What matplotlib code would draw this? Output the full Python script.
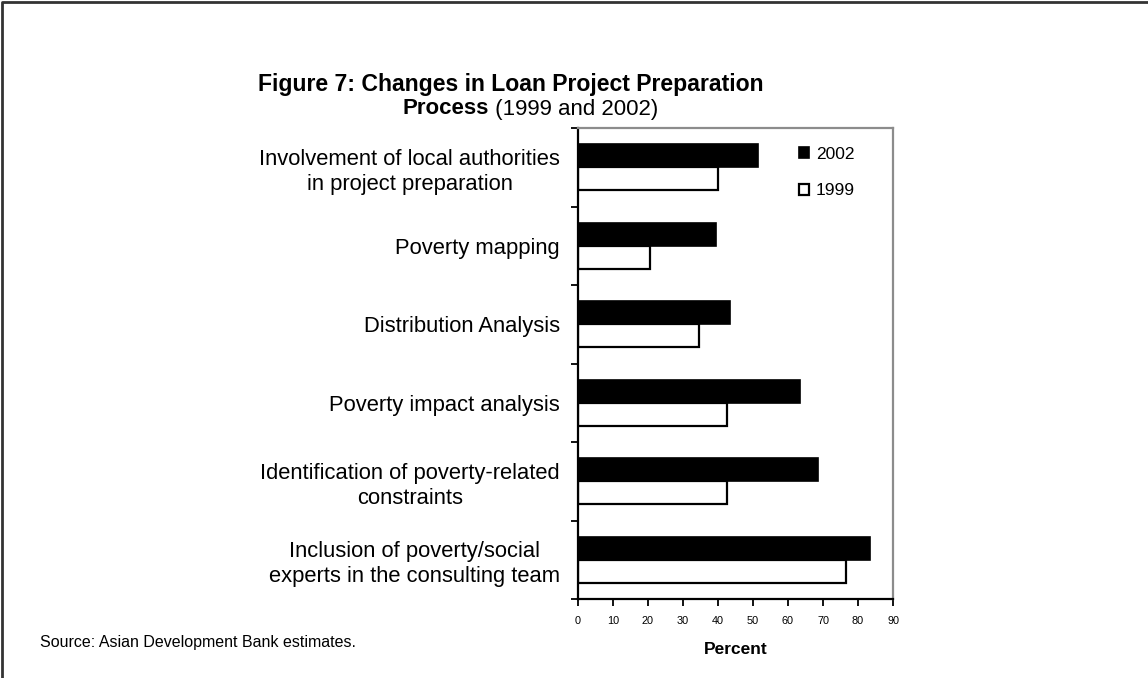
import matplotlib.pyplot as plt
from matplotlib.lines import Line2D
import numpy as np

plt.rcParams['font.family'] = ['Liberation Sans', 'DejaVu Sans']

# survey categories, listed top to bottom
categories = [
    "Involvement of local authorities\nin project preparation",
    "Poverty mapping",
    "Distribution Analysis",
    "Poverty impact analysis",
    "Identification of poverty-related\nconstraints",
    "Inclusion of poverty/social\nexperts in the consulting team",
]
pct_2002 = [51.5, 39.5, 43.5, 63.5, 68.5, 83.5]
pct_1999 = [40, 20.5, 34.5, 42.5, 42.5, 76.5]
x_ticks = [0, 10, 20, 30, 40, 50, 60, 70, 80, 90]

W, H = 1148, 678
fig = plt.figure(figsize=(W / 100, H / 100), dpi=100)
ax = fig.add_axes([578 / W, 79 / H, 315 / W, 471 / H])

y = np.arange(len(categories))
bar_h = 0.293
ax.barh(y - bar_h / 2, pct_2002, height=bar_h, color='black',
        edgecolor='black', linewidth=1.2, label='2002')
ax.barh(y + bar_h / 2, pct_1999, height=bar_h, color='white',
        edgecolor='black', linewidth=1.6, label='1999')

ax.set_xlim(0, 90)
ax.set_ylim(len(categories) - 0.5, -0.5)

# ticks sit between groups, labels sit at group centres
ax.set_yticks(np.arange(-0.5, len(categories)), labels=[''] * (len(categories) + 1))
ax.set_yticks(y, labels=categories, minor=True)
ax.tick_params(axis='y', which='major', direction='out', length=5, width=1.3)
ax.tick_params(axis='y', which='minor', length=0, pad=13, labelsize=15.8)
for t in ax.get_yticklabels(minor=True):
    t.set_multialignment('center')
    t.set_linespacing(1.25)

ax.set_xticks(x_ticks)
ax.tick_params(axis='x', direction='out', length=5, width=1.3, labelsize=7.8, pad=7)
ax.set_xlabel('Percent', fontweight='bold', fontsize=12.5, labelpad=12)

for side in ['left', 'bottom']:
    ax.spines[side].set_linewidth(1.6)
    ax.spines[side].set_color('black')
for side in ['top', 'right']:
    ax.spines[side].set_linewidth(1.6)
    ax.spines[side].set_color('#8c8c8c')

ax.legend(loc='upper left', bbox_to_anchor=(0.68, 0.975), frameon=False,
          fontsize=12.5, handlelength=0.55, handleheight=0.55,
          handletextpad=0.4, labelspacing=1.25, borderaxespad=0)

# title: first line bold, second line mixes bold and regular
fig.text(511 / W, 1 - 84 / H, 'Figure 7: Changes in Loan Project Preparation',
         ha='center', va='center', fontsize=16.6, fontweight='bold')
renderer = fig.canvas.get_renderer()
t1 = fig.text(0, 1 - 109 / H, 'Process', ha='left', va='center',
              fontsize=16, fontweight='bold')
t2 = fig.text(0, 1 - 109 / H, ' (1999 and 2002)', ha='left', va='center',
              fontsize=16)
w1 = t1.get_window_extent(renderer).width
w2 = t2.get_window_extent(renderer).width
x0 = 530 - (w1 + w2) / 2
t1.set_x(x0 / W)
t2.set_x((x0 + w1) / W)

fig.text(40 / W, 1 - 643 / H, 'Source: Asian Development Bank estimates.',
         ha='left', va='center', fontsize=11.5)

# frame lines along the top and left edge
fig.add_artist(Line2D([1.5 / W, 1.5 / W, 1], [0, 1 - 1.5 / H, 1 - 1.5 / H],
                      transform=fig.transFigure, color='#333333', linewidth=2))

fig.savefig('out.png', dpi=100)
